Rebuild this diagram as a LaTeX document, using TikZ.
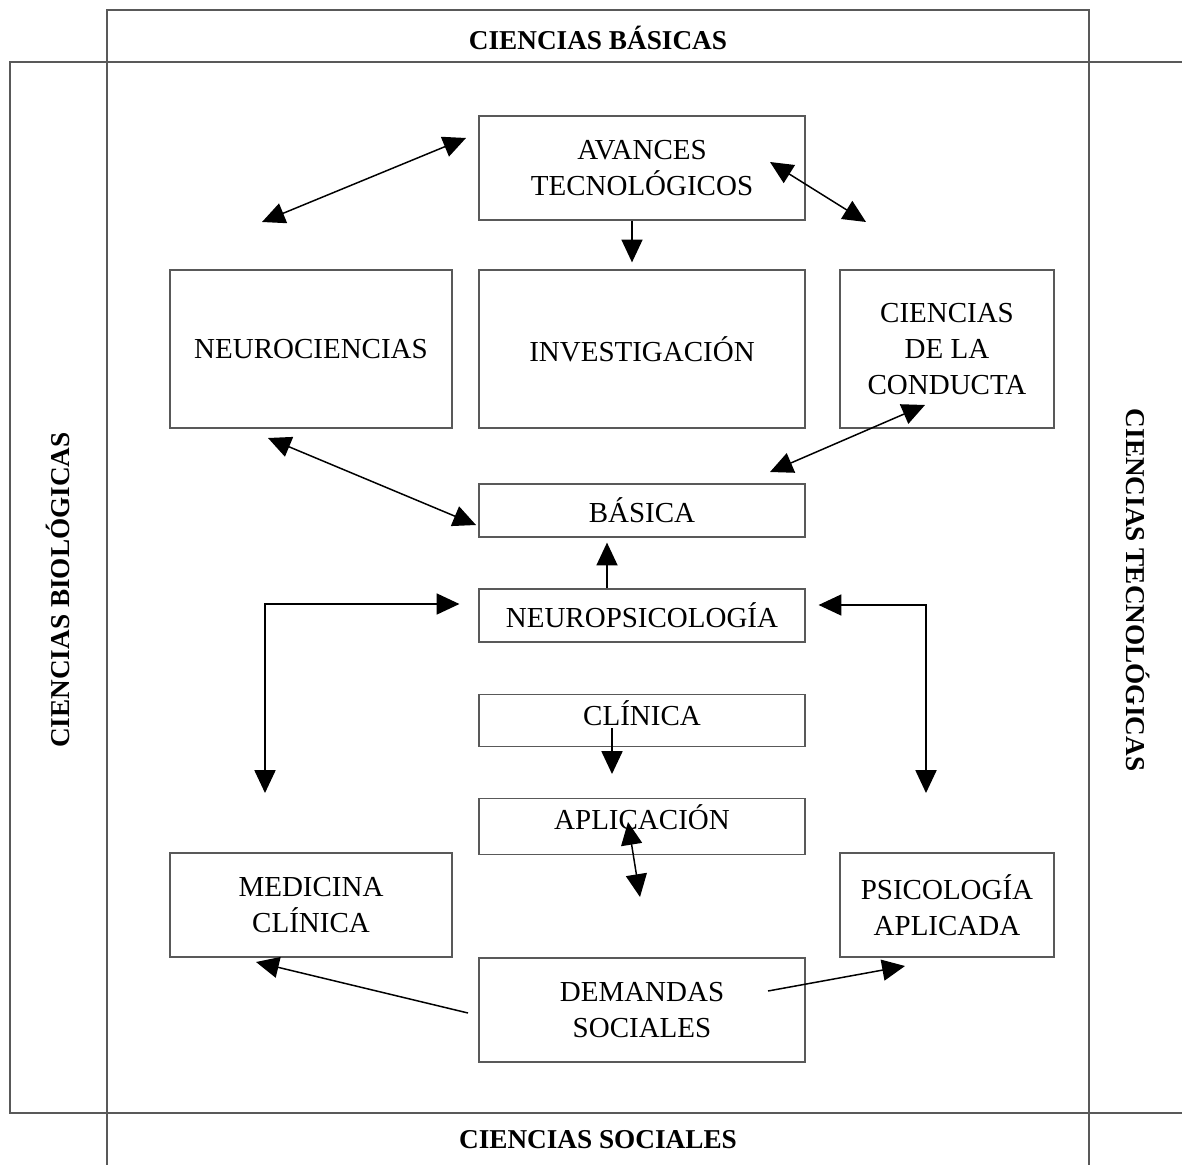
\documentclass[tikz,border=0pt]{standalone}
\usepackage{fontspec}
\setmainfont{Liberation Serif}
\usetikzlibrary{positioning}
\usetikzlibrary{arrows.meta}

\tikzset{
    caja/.style={draw=black!65, line width=0.7pt, rectangle, align=center, font=\fontsize{16.5}{20.5}\selectfont},
    titulo/.style={font=\bfseries\fontsize{15.5}{18}\selectfont},
    marco/.style={draw=black!65, line width=0.8pt},
    flecha/.style={draw=black, line width=0.85pt, -{Triangle[length=13pt,width=12pt]}},
    flechados/.style={draw=black, line width=0.85pt, {Triangle[length=13pt,width=12pt]}-{Triangle[length=13pt,width=12pt]}}
}

\begin{document}
\begin{tikzpicture}[x=0.02cm,y=-0.02cm]
        \useasboundingbox (0,0) rectangle (1182,1165);

        % marcos exteriores
        \draw[marco] (107,1165) -- (107,10) -- (1089,10) -- (1089,1165);
        \draw[marco] (1182,62) -- (10,62) -- (10,1113) -- (1182,1113);

        \node[titulo] (tituloBasicas) at (598,38) {CIENCIAS BÁSICAS};
        \node[titulo] (tituloSociales) at (598,1140) {CIENCIAS SOCIALES};
        \node[titulo,rotate=90] (tituloBiologicas) at (58,590) {CIENCIAS BIOLÓGICAS};
        \node[titulo,rotate=-90] (tituloTecnologicas) at (1138,590) {CIENCIAS TECNOLÓGICAS};

        % cajas
        \node (rectAvances) at (642,168) [caja, minimum width=6.52cm, minimum height=2.08cm] {AVANCES\\TECNOLÓGICOS};
        \node (rectNeuro) at (311,349) [caja, minimum width=5.64cm, minimum height=3.16cm] {NEUROCIENCIAS};
        \node (rectInvest) at (642,349) [caja, minimum width=6.52cm, minimum height=3.16cm] {INVESTIGACIÓN};
        \node (rectConducta) at (947,349) [caja, minimum width=4.28cm, minimum height=3.16cm] {CIENCIAS\\DE LA\\CONDUCTA};
        \node (rectBasica) at (642,510.5) [caja, minimum width=6.52cm, minimum height=1.06cm] {BÁSICA};
        \node (rectNeuropsi) at (642,615.5) [caja, minimum width=6.52cm, minimum height=1.06cm] {NEUROPSICOLOGÍA};
        \node (rectClinica) at (642,720.5) [caja, minimum width=6.52cm, minimum height=1.02cm, text depth=9pt] {CLÍNICA};
        \node (rectAplicacion) at (642,826.5) [caja, minimum width=6.52cm, minimum height=1.06cm, text depth=11pt] {APLICACIÓN};
        \node (rectMedicina) at (311,905) [caja, minimum width=5.64cm, minimum height=2.08cm] {MEDICINA\\CLÍNICA};
        \node (rectPsico) at (947,905) [caja, minimum width=4.28cm, minimum height=2.08cm] {PSICOLOGÍA\\APLICADA};
        \node (rectDemandas) at (642,1010) [caja, minimum width=6.52cm, minimum height=2.08cm] {DEMANDAS\\SOCIALES};

        % extremos libres
        \coordinate (neuroArriba) at (262,222);
        \coordinate (avancesIzq) at (466,138);
        \coordinate (avancesDer) at (770,162);
        \coordinate (conductaArriba) at (866,222);
        \coordinate (neuroAbajo) at (268,438);
        \coordinate (basicaIzq) at (476,525);
        \coordinate (conductaAbajo) at (925,405);
        \coordinate (basicaDer) at (770,472);
        \coordinate (izqAbajo) at (265,793);
        \coordinate (derAbajo) at (926,793);
        \coordinate (clinicaDentro) at (612,728);
        \coordinate (clinicaAbajo) at (612,774);
        \coordinate (aplicacionDentro) at (628,822);
        \coordinate (aplicacionAbajo) at (640,897);
        \coordinate (demandasIzq) at (468,1013);
        \coordinate (medicinaAbajo) at (256,962);
        \coordinate (demandasDer) at (768,991);
        \coordinate (psicoAbajo) at (905,966);

        % conexiones
        \draw[flechados] (neuroArriba) -- (avancesIzq);
        \draw[flechados] (avancesDer) -- (conductaArriba);
        \draw[flecha] ([xshift=-0.2cm]rectAvances.south) -- ([xshift=-0.2cm,yshift=0.14cm]rectInvest.north);
        \draw[flechados] (neuroAbajo) -- (basicaIzq);
        \draw[flechados] (conductaAbajo) -- (basicaDer);
        \draw[flecha] ([xshift=-0.7cm]rectNeuropsi.north) -- ([xshift=-0.7cm,yshift=-0.1cm]rectBasica.south);
        \draw[flechados] ([xshift=-0.38cm,yshift=0.23cm]rectNeuropsi.west) -| (izqAbajo);
        \draw[flechados] ([xshift=0.26cm,yshift=0.21cm]rectNeuropsi.east) -| (derAbajo);
        \draw[flecha] (clinicaDentro) -- (clinicaAbajo);
        \draw[flechados] (aplicacionDentro) -- (aplicacionAbajo);
        \draw[flecha] (demandasIzq) -- (medicinaAbajo);
        \draw[flecha] (demandasDer) -- (psicoAbajo);

\end{tikzpicture}
\end{document}
